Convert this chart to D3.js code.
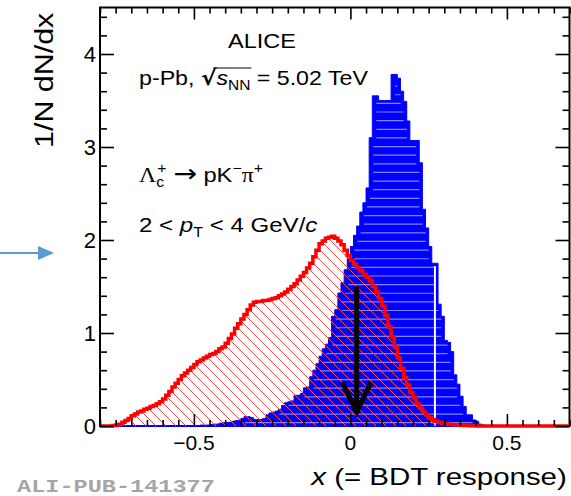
<!DOCTYPE html>
<html><head><meta charset="utf-8">
<script src="https://cdn.jsdelivr.net/npm/d3@7"></script>
<style>body{margin:0;background:#fff} svg{display:block}</style>
</head><body>
<svg id="c" width="571" height="496"></svg>
<script>
// ---------------- data ----------------
const binWidth = 0.01;
const blueStart = -0.50;
const blueValues = [
 0.005,0.005,0.01,0.01,0.01,0.015,0.02,0.02,0.03,0.035,
 0.035,0.04,0.05,0.057,0.06,0.08,0.10,0.10,0.09,0.07,
 0.07,0.07,0.08,0.12,0.14,0.15,0.16,0.18,0.22,0.25,
 0.26,0.27,0.33,0.33,0.35,0.41,0.42,0.53,0.60,0.67,
 0.75,0.83,0.88,0.95,1.18,1.25,1.43,1.54,1.68,1.80,
 1.93,2.05,2.15,2.30,2.40,2.56,3.10,3.55,3.55,3.50,
 3.50,3.50,3.50,3.78,3.78,3.74,3.60,3.49,3.28,3.07,
 3.07,3.07,2.83,2.33,2.13,1.93,1.75,1.75,1.31,1.18,
 0.92,0.90,0.80,0.55,0.45,0.32,0.21,0.12,0.12,0.065,
 0.05,0.02,0.01,0.005,0.005
];
const redStart = -0.80;
const redValues = [
 0,0,0,0,0.005,0.01,0.02,0.04,0.06,0.08,
 0.11,0.13,0.15,0.16,0.18,0.19,0.21,0.22,0.24,0.26,
 0.29,0.33,0.37,0.42,0.46,0.50,0.54,0.57,0.60,0.63,
 0.66,0.69,0.71,0.73,0.75,0.77,0.78,0.80,0.83,0.85,
 0.89,0.94,0.99,1.05,1.10,1.15,1.20,1.25,1.30,1.33,
 1.34,1.34,1.35,1.35,1.36,1.37,1.38,1.40,1.42,1.44,
 1.47,1.50,1.53,1.57,1.61,1.65,1.70,1.75,1.82,1.89,
 1.96,1.99,2.02,2.03,2.04,2.02,1.99,1.95,1.89,1.83,
 1.78,1.74,1.70,1.67,1.63,1.60,1.56,1.50,1.44,1.37,
 1.29,1.19,1.07,0.96,0.85,0.73,0.62,0.52,0.44,0.36,
 0.30,0.24,0.19,0.15,0.12,0.09,0.07,0.05,0.04,0.03,
 0.025,0.02,0.015,0.012,0.01,0.008,0.006,0.005,0.004,0.003,
 0,0,0,0,0,0,0,0,0,0,
 0,0,0,0,0,0,0,0,0,0,
 0,0,0,0,0,0,0,0,0,0
];
const xDomain = [-0.8, 0.7];
const yDomain = [0, 4.5];
const xMajorTicks = [-0.5, 0, 0.5];
const xTickLabels = ["\u22120.5", "0", "0.5"];
const yMajorTicks = [0, 1, 2, 3, 4];
const yTickLabels = ["0", "1", "2", "3", "4"];
const xMinorStep = 0.05;
const yMinorStep = 0.2;
const arrowX = 0.02, arrowTop = 1.5, arrowTip = 0.15;   // black cut arrow
const cutX = 0.27, cutTop = 1.72;                       // white vertical line
const sideArrowY = 1.86;                                 // blue pointer at left

// ---------------- drawing ----------------
const svg = d3.select("#c");
const x = d3.scaleLinear().domain(xDomain).range([100, 569.5]);
const y = d3.scaleLinear().domain(yDomain).range([426, 7.5]);
const SANS = "'Liberation Sans', Arial, Helvetica, sans-serif";
const SERIF = "'Liberation Serif', 'Times New Roman', serif";

const defs = svg.append("defs");
const pat = defs.append("pattern").attr("id","hatch").attr("patternUnits","userSpaceOnUse")
  .attr("width",10).attr("height",10);
pat.append("path").attr("d","M-1,-1 L11,11 M-6,4 L6,16 M4,-6 L16,6")
  .attr("stroke","#ff4a4a").attr("stroke-width",1).attr("fill","none");
defs.append("clipPath").attr("id","plotclip").append("rect")
  .attr("x", x(xDomain[0])).attr("y", y(yDomain[1]))
  .attr("width", x(xDomain[1]) - x(xDomain[0])).attr("height", y(0) - y(yDomain[1]) + 3);

// frame
svg.append("rect").attr("x", x(xDomain[0])).attr("y", y(yDomain[1]))
  .attr("width", x(xDomain[1]) - x(xDomain[0])).attr("height", y(0) - y(yDomain[1]))
  .attr("fill","none").attr("stroke","#000").attr("stroke-width",2);

function bins(start, vals){
  const pts = vals.map((v,i)=>({x: start + i*binWidth, v}));
  pts.push({x: start + vals.length*binWidth, v: vals[vals.length-1]});
  return pts;
}
const bluePts = bins(blueStart, blueValues);
const redPts = bins(redStart, redValues);

const plot = svg.append("g").attr("clip-path","url(#plotclip)");

// blue histogram
const area = d3.area().x(d=>x(d.x)).y0(y(0)).y1(d=>y(d.v)).curve(d3.curveStepAfter);
const line = d3.line().x(d=>x(d.x)).y(d=>y(d.v)).curve(d3.curveStepAfter);
plot.append("path").attr("d", area(bluePts)).attr("fill","#0000ff").attr("stroke","#0000ff").attr("stroke-width",1);
plot.append("line").attr("x1", x(xDomain[0])).attr("x2", x(xDomain[1]))
  .attr("y1", y(0)).attr("y2", y(0)).attr("stroke","#0000ff").attr("stroke-width",2);

// light stripes inside the blue fill
const stripeGap = 8.63;
const stripes = [];
for (let py = y(0) - 3.3; py > y(yDomain[1]); py -= stripeGap) {
  const lvl = y.invert(py - 2.5);
  let run = null;
  blueValues.forEach((v,i)=>{
    const a = blueStart + i*binWidth, b = a + binWidth;
    if (v >= lvl) { if (!run) run = {a, b}; else run.b = b; }
    else if (run) { stripes.push({py, ...run}); run = null; }
  });
  if (run) stripes.push({py, ...run});
}
plot.selectAll("line.stripe").data(stripes.filter(s => x(s.b) - x(s.a) > 9)).join("line")
  .attr("class","stripe")
  .attr("x1", s => x(s.a) + 4).attr("x2", s => x(s.b) - 3)
  .attr("y1", s => s.py).attr("y2", s => s.py)
  .attr("stroke","#8484ff").attr("stroke-width",1.2);

// white vertical line
plot.append("line").attr("x1", x(cutX)).attr("x2", x(cutX))
  .attr("y1", y(cutTop)).attr("y2", y(0)).attr("stroke","#fff").attr("stroke-width",2);

// red histogram
plot.append("path").attr("d", area(redPts)).attr("fill","url(#hatch)");
plot.append("path").attr("d", line(redPts)).attr("fill","none").attr("stroke","#ff0000")
  .attr("stroke-width",3.5).attr("stroke-linejoin","miter");

// black arrow
const ax = x(arrowX);
svg.append("line").attr("x1", ax).attr("x2", ax).attr("y1", y(arrowTop)).attr("y2", y(arrowTip) - 2)
  .attr("stroke","#000").attr("stroke-width",5);
svg.append("path").attr("d", `M${ax-14.5},${y(arrowTip)-30} L${ax},${y(arrowTip)} L${ax+14.5},${y(arrowTip)-30}`)
  .attr("fill","none").attr("stroke","#000").attr("stroke-width",5).attr("stroke-linejoin","miter");

// ticks
const xMinor = d3.range(Math.round(xDomain[0]/xMinorStep), Math.round(xDomain[1]/xMinorStep)+1)
  .map(k => +(k*xMinorStep).toFixed(3)).filter(v => !xMajorTicks.includes(v));
const yMinor = d3.range(0, Math.round(yDomain[1]/yMinorStep)+1)
  .map(k => +(k*yMinorStep).toFixed(3)).filter(v => !yMajorTicks.includes(v));
function tickAxis(gen, tr){
  const g = svg.append("g").attr("transform", tr).call(gen);
  g.select(".domain").remove();
  g.selectAll("line").attr("stroke","#000").attr("stroke-width",1.6);
  g.selectAll("text").remove();
  return g;
}
tickAxis(d3.axisBottom(x).tickValues(xMinor).tickSize(-6).tickFormat(""), `translate(0,${y(0)})`);
tickAxis(d3.axisBottom(x).tickValues(xMajorTicks).tickSize(-12).tickFormat(""), `translate(0,${y(0)})`);
tickAxis(d3.axisTop(x).tickValues(xMinor).tickSize(-6).tickFormat(""), `translate(0,${y(yDomain[1])})`);
tickAxis(d3.axisTop(x).tickValues(xMajorTicks).tickSize(-12).tickFormat(""), `translate(0,${y(yDomain[1])})`);
tickAxis(d3.axisLeft(y).tickValues(yMinor).tickSize(-7).tickFormat(""), `translate(${x(xDomain[0])},0)`);
tickAxis(d3.axisLeft(y).tickValues(yMajorTicks).tickSize(-14).tickFormat(""), `translate(${x(xDomain[0])},0)`);
tickAxis(d3.axisRight(y).tickValues(yMinor).tickSize(-7).tickFormat(""), `translate(${x(xDomain[1])},0)`);
tickAxis(d3.axisRight(y).tickValues(yMajorTicks).tickSize(-14).tickFormat(""), `translate(${x(xDomain[1])},0)`);

// tick labels
svg.append("g").selectAll("text").data(xMajorTicks).join("text")
  .attr("x", d => x(d)).attr("y", 450).attr("text-anchor","middle")
  .attr("font-family", SANS).attr("font-size", 21).attr("fill","#000")
  .text((d,i) => xTickLabels[i]);
svg.append("g").selectAll("text").data(yMajorTicks).join("text")
  .attr("x", 96).attr("y", d => y(d)).attr("dy","0.36em").attr("text-anchor","end")
  .attr("font-family", SANS).attr("font-size", 22).attr("fill","#000")
  .text((d,i) => yTickLabels[i]);

// helper: horizontally fit a group's content to [x0, x0+w]
function fitX(g, x0, w){
  const bb = g.node().getBBox();
  const s = w / bb.width;
  g.attr("transform", `translate(${x0},0) scale(${s},1) translate(${-bb.x},0)`);
}
function fitY(g, y0, h){
  const bb = g.node().getBBox();
  const s = h / bb.height;
  g.attr("transform", `translate(0,${y0}) scale(1,${s}) translate(0,${-bb.y})`);
}

// axis titles
const gx = svg.append("g");
const tx = gx.append("text").attr("x",0).attr("y",485).attr("font-family",SANS).attr("font-size",23).attr("fill","#000");
tx.append("tspan").attr("font-style","italic").text("x");
tx.append("tspan").text(" (= BDT response)");
fitX(gx, 310, 257);

const gy = svg.append("g");
gy.append("text").attr("transform","translate(53,0) rotate(-90)").attr("x",-148).attr("y",0)
  .attr("font-family",SANS).attr("font-size",25).attr("fill","#000").text("1/N dN/dx");
fitY(gy, 12, 136);

// annotations
const g1 = svg.append("g");
g1.append("text").attr("x",0).attr("y",48).attr("font-family",SANS).attr("font-size",21).text("ALICE");
fitX(g1, 228, 68);

const g2 = svg.append("g");
const t2 = g2.append("text").attr("x",0).attr("y",85).attr("font-family",SANS).attr("font-size",21);
t2.append("tspan").text("p-Pb, ");
t2.append("tspan").attr("font-family","'DejaVu Sans', sans-serif").attr("font-weight","bold").text("\u221A");
t2.append("tspan").attr("font-style","italic").text("s");
t2.append("tspan").attr("font-size",14).attr("dy",5).text("NN");
t2.append("tspan").attr("dy",-5).text(" = 5.02 TeV");
{
  const n = t2.node();
  const r = n.getExtentOfChar(6), e = n.getExtentOfChar(9);
  g2.append("line").attr("x1", r.x + r.width*0.8).attr("x2", e.x + e.width + 1)
    .attr("y1", r.y + 2).attr("y2", r.y + 2).attr("stroke","#000").attr("stroke-width",1);
}
fitX(g2, 139, 229);

const g3 = svg.append("g");
const t3 = g3.append("text").attr("x",0).attr("y",182).attr("font-family",SANS).attr("font-size",21);
t3.append("tspan").attr("font-family",SERIF).text("\u039B");
t3.append("tspan").attr("font-size",14).attr("dy",5).text("c");
t3.append("tspan").attr("font-size",14).attr("dx",-6).attr("dy",-14).text("+");
t3.append("tspan").attr("dy",9).text(" ");
t3.append("tspan").attr("font-family","'DejaVu Sans', sans-serif").attr("font-size",25).text("\u2192");
t3.append("tspan").text(" pK");
t3.append("tspan").attr("font-size",14).attr("dy",-9).text("\u2212");
t3.append("tspan").attr("dy",9).attr("font-family",SERIF).text("\u03C0");
t3.append("tspan").attr("font-size",14).attr("dy",-9).text("+");
fitX(g3, 139, 124);

const g4 = svg.append("g");
const t4 = g4.append("text").attr("x",0).attr("y",232).attr("font-family",SANS).attr("font-size",21);
t4.append("tspan").text("2 < ");
t4.append("tspan").attr("font-style","italic").text("p");
t4.append("tspan").attr("font-size",14).attr("dy",5).text("T");
t4.append("tspan").attr("dy",-5).text(" < 4 GeV/");
t4.append("tspan").attr("font-style","italic").text("c");
fitX(g4, 139, 179);

// left pointer arrow
const sy = y(sideArrowY);
svg.append("line").attr("x1",0).attr("x2",42).attr("y1",sy).attr("y2",sy)
  .attr("stroke","#5b9bd5").attr("stroke-width",2);
svg.append("path").attr("d",`M38,${sy-7} L54,${sy} L38,${sy+7} Z`).attr("fill","#5b9bd5");

// publication id
const g5 = svg.append("g");
g5.append("text").attr("x",0).attr("y",492).attr("font-family","'Liberation Mono', 'Courier New', monospace")
  .attr("font-weight","bold").attr("font-size",19).attr("fill","#a6a6a6").text("ALI-PUB-141377");
fitX(g5, 17, 198);
</script>
</body></html>
